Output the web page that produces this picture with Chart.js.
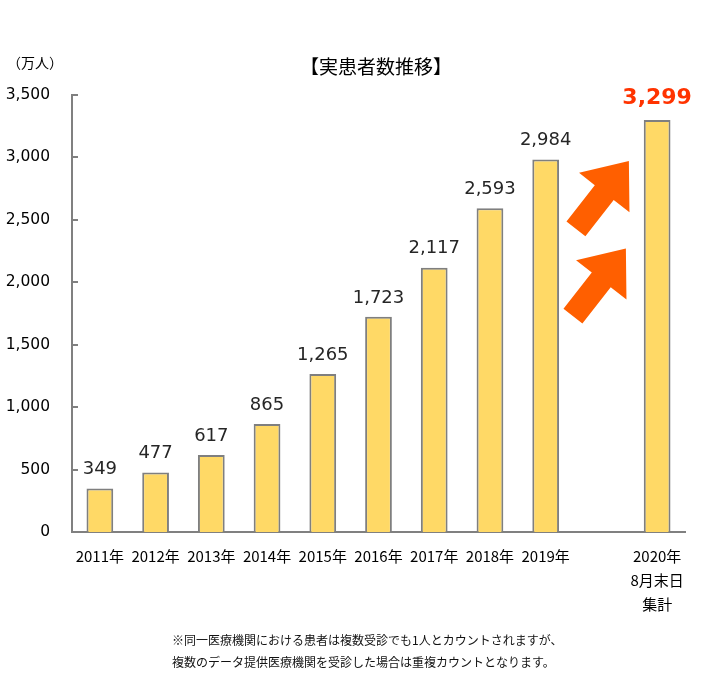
<!DOCTYPE html>
<html>
<head>
<meta charset="utf-8">
<script src="https://cdn.jsdelivr.net/npm/chart.js@4.4.1/dist/chart.umd.min.js"></script>
<style>
  html, body { margin: 0; padding: 0; background: #fff; }
  #wrap { width: 703px; height: 683px; position: relative; }
</style>
</head>
<body>
<div id="wrap"><canvas id="c" width="703" height="683"></canvas></div>
<script>
const categories = ['2011年','2012年','2013年','2014年','2015年','2016年','2017年','2018年','2019年','',['2020年','8月末日','集計']];
const patients = [349, 477, 617, 865, 1265, 1723, 2117, 2593, 2984, null, 3299];
const yTicks = [0, 500, 1000, 1500, 2000, 2500, 3000, 3500];
const titleText = '【実患者数推移】';
const unitText = '（万人）';
const notes = ['※同一医療機関における患者は複数受診でも1人とカウントされますが、', '複数のデータ提供医療機関を受診した場合は重複カウントとなります。'];
const highlightIndex = 10;
const arrowAnchors = [ {index: 9, value: 2700, dx: 1}, {index: 9, value: 2000, dx: -2} ];

const LATIN = '"DejaVu Sans", "Noto Sans CJK JP", sans-serif';
const CJK = '"Noto Sans CJK JP", "DejaVu Sans", sans-serif';

const decorPlugin = {
  id: 'decor',
  afterDraw(chart) {
    const ctx = chart.ctx;
    const ys = chart.scales.y;
    const ca = chart.chartArea;
    ctx.save();
    ctx.strokeStyle = '#808080';
    ctx.lineWidth = 2;
    yTicks.forEach(v => {
      if (v === 0) return;
      const y = Math.round(ys.getPixelForValue(v));
      ctx.beginPath();
      ctx.moveTo(ca.left, y);
      ctx.lineTo(ca.left + 6, y);
      ctx.stroke();
    });
    ctx.fillStyle = '#000';
    ctx.textAlign = 'center';
    ctx.textBaseline = 'middle';
    ctx.font = '19px ' + CJK;
    ctx.fillText(titleText, 376, 67);
    ctx.font = '14px ' + CJK;
    ctx.fillText(unitText, 35, 63);
    ctx.textAlign = 'left';
    ctx.font = '12px ' + CJK;
    ctx.fillStyle = '#111';
    notes.forEach((t, i) => ctx.fillText(t, 172, 640 + i * 22));
    ctx.restore();
  },
  afterDatasetsDraw(chart) {
    const ctx = chart.ctx;
    const ys = chart.scales.y, xs = chart.scales.x;
    ctx.save();
    ctx.textAlign = 'center';
    ctx.textBaseline = 'middle';
    patients.forEach((v, i) => {
      if (v == null) return;
      const x = xs.getPixelForValue(i);
      const y = ys.getPixelForValue(v);
      const txt = v.toLocaleString('en-US');
      if (i === highlightIndex) {
        ctx.font = 'bold 22px ' + LATIN;
        ctx.fillStyle = '#ff3300';
        ctx.fillText(txt, x, y - 22);
      } else {
        ctx.font = '18px ' + LATIN;
        ctx.fillStyle = '#262626';
        ctx.fillText(txt, x, y - 19);
      }
    });
    ctx.fillStyle = '#ff5f00';
    arrowAnchors.forEach(a => {
      const cx = xs.getPixelForValue(a.index) + a.dx;
      const cy = ys.getPixelForValue(a.value);
      const ang = -52 * Math.PI / 180;
      const L = 86, shaftL = 46, sw = 12, hw = 32;
      ctx.save();
      ctx.translate(cx, cy);
      ctx.rotate(ang);
      ctx.beginPath();
      ctx.moveTo(-L / 2, -sw);
      ctx.lineTo(-L / 2 + shaftL, -sw);
      ctx.lineTo(-L / 2 + shaftL, -hw);
      ctx.lineTo(L / 2, 0);
      ctx.lineTo(-L / 2 + shaftL, hw);
      ctx.lineTo(-L / 2 + shaftL, sw);
      ctx.lineTo(-L / 2, sw);
      ctx.closePath();
      ctx.fill();
      ctx.restore();
    });
    ctx.restore();
  }
};

new Chart(document.getElementById('c'), {
  type: 'bar',
  data: {
    labels: categories,
    datasets: [{
      data: patients,
      backgroundColor: '#ffd966',
      borderColor: '#7f7f7f',
      borderWidth: 2,
      barPercentage: 0.48,
      categoryPercentage: 1.0
    }]
  },
  options: {
    responsive: false,
    animation: false,
    layout: { padding: { left: 0, right: 18, top: 95, bottom: 0 } },
    plugins: { legend: { display: false }, tooltip: { enabled: false }, title: { display: false } },
    scales: {
      x: {
        grid: { display: false, drawTicks: false },
        border: { display: true, color: '#808080', width: 2 },
        ticks: {
          font: { family: CJK, size: 15, lineHeight: 1.6 },
          color: '#000',
          padding: 12,
          maxRotation: 0,
          autoSkip: false
        },
        afterFit(s) { s.height = 151; }
      },
      y: {
        min: 0,
        max: 3500,
        afterBuildTicks(s) { s.ticks = yTicks.map(v => ({ value: v })); },
        grid: { display: false, drawTicks: false },
        border: { display: true, color: '#808080', width: 2 },
        ticks: {
          font: { family: LATIN, size: 15.5 },
          color: '#000',
          padding: 22,
          callback: v => v.toLocaleString('en-US')
        },
        afterFit(s) { s.width = 72; }
      }
    }
  },
  plugins: [decorPlugin]
});
</script>
</body>
</html>
